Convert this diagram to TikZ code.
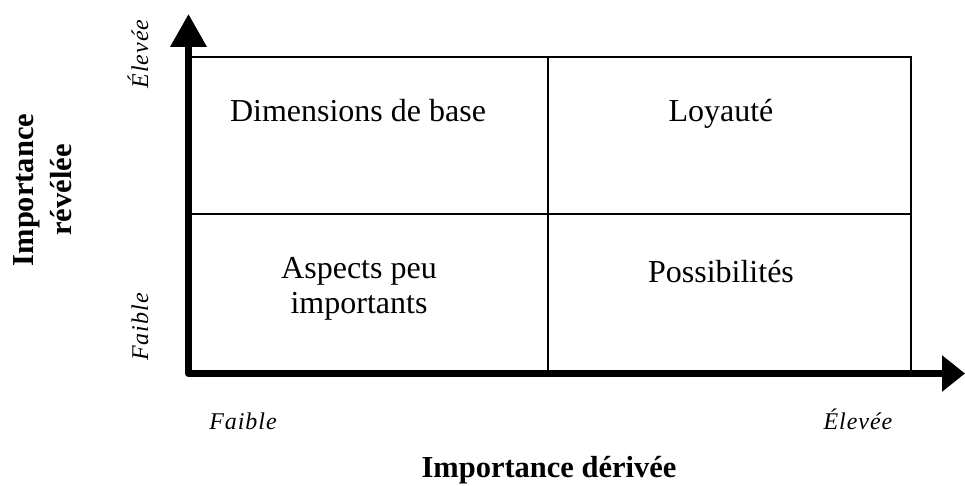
\documentclass[tikz,border=0pt]{standalone}
\usepackage{fontspec}
\setmainfont{Liberation Serif}
\usetikzlibrary{arrows.meta}
\tikzset{
  axis/.style={line width=7pt, line join=round,
    {Triangle[length=33pt,width=35pt]}-{Triangle[length=23pt,width=35pt]}},
  grid/.style={line width=1.3pt},
  celltext/.style={font=\fontsize{32}{35}\selectfont, align=center, anchor=base, inner sep=0pt},
  levtext/.style={font=\fontsize{24}{28}\selectfont\itshape\addfontfeature{LetterSpace=4}, anchor=base, inner sep=0pt},
  titletext/.style={font=\fontsize{30.5}{38}\selectfont\bfseries, align=center, inner sep=0pt}
}
\begin{document}
\begin{tikzpicture}[x=1pt,y=-1pt]
\useasboundingbox (0,0) rectangle (965,486);
% grid
\coordinate (O) at (188.5,373.5);
\coordinate (ytip) at (188.5,14);
\coordinate (xtip) at (965,373.5);
\coordinate (tl) at (188.5,57);
\coordinate (tr) at (911,57);
\coordinate (br) at (911,373.5);
\coordinate (tm) at (548,57);
\coordinate (bm) at (548,373.5);
\coordinate (ml) at (188.5,214);
\coordinate (mr) at (911,214);
\draw[grid] (tl) -- (tr) -- (br);
\draw[grid] (tm) -- (bm);
\draw[grid] (ml) -- (mr);
\draw[axis] (ytip) -- (O) -- (xtip);
% cell texts
\node[celltext] (c1) at (358,122) {Dimensions de base};
\node[celltext] (c2) at (721,122) {Loyauté};
\node[celltext] (c3) at (359,313) {Aspects peu\\importants};
\node[celltext] (c4) at (721,282) {Possibilités};
% axis level labels
\node[levtext] (xl) at (243,429) {Faible};
\node[levtext] (xh) at (858,429) {Élevée};
\node[levtext, rotate=90] (yh) at (148,54) {Élevée};
\node[levtext, rotate=90] (yl) at (148,327) {Faible};
% titles
\node[titletext, anchor=base] (xt) at (549,477) {Importance dérivée};
\node[titletext, rotate=90, anchor=base] (yt) at (71,190) {Importance\\révélée};
\end{tikzpicture}
\end{document}
